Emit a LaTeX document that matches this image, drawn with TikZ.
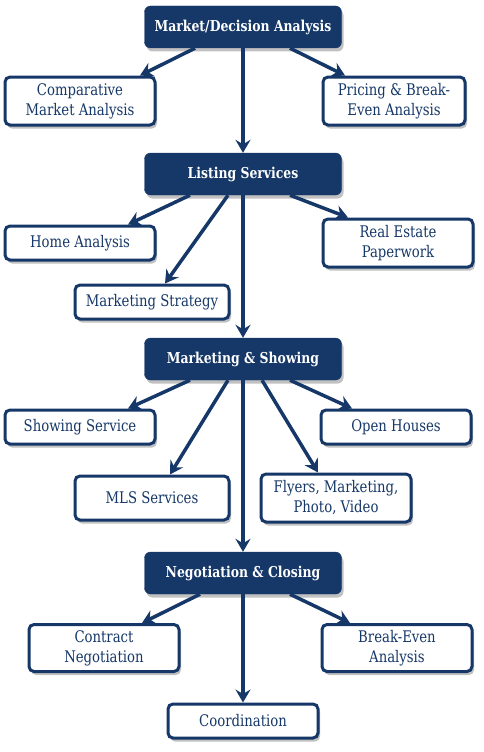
\documentclass[tikz,border=0pt]{standalone}
\usepackage{fontspec}
\setmainfont[FakeStretch=0.92]{DejaVu Serif Condensed}
\usetikzlibrary{shadows,arrows.meta,calc}
\definecolor{navy}{HTML}{163868}
\begin{document}
\begin{tikzpicture}[x=1pt,y=-1pt,
 shad/.style={drop shadow={shadow xshift=2pt,shadow yshift=-3.5pt,opacity=0.35,fill=black!70}},
 darkbox/.style={shad,fill=navy,draw=navy,rounded corners=6pt,text=white,
   font=\bfseries\fontsize{15}{18}\selectfont,minimum width=197pt,minimum height=42pt,inner sep=2pt},
 lightbox/.style={shad,fill=white,draw=navy,line width=3pt,rounded corners=5pt,text=navy,
   font=\fontsize{16}{20}\selectfont,align=center,minimum width=150pt,minimum height=34pt,inner sep=2pt},
 arr/.style={draw=navy,line width=3.5pt,-{Stealth[length=13pt,width=15pt,inset=4.5pt]}}]
\useasboundingbox (0,0) rectangle (484,752);
% main boxes
\node[darkbox] (mda) at (243,27) {Market/Decision Analysis};
\node[darkbox] (ls) at (243,174) {Listing Services};
\node[darkbox] (mks) at (243,359) {Marketing \& Showing};
\node[darkbox] (nc) at (243,573) {Negotiation \& Closing};
% sub boxes
\node[lightbox,minimum height=48pt] (cma) at (80,101) {Comparative\\Market Analysis};
\node[lightbox,minimum height=48pt,minimum width=142pt] (pea) at (394,101) {Pricing \& Break-\\Even Analysis};
\node[lightbox] (ha) at (80,243) {Home Analysis};
\node[lightbox,minimum height=48pt] (rep) at (398,243) {Real Estate\\Paperwork};
\node[lightbox,minimum width=154pt] (ms) at (152,302) {Marketing Strategy};
\node[lightbox] (ss) at (80,427) {Showing Service};
\node[lightbox] (oh) at (396,427) {Open Houses};
\node[lightbox,minimum width=154pt,minimum height=44pt] (mls) at (152,498) {MLS Services};
\node[lightbox,minimum height=48pt] (fly) at (336,498) {Flyers, Marketing,\\Photo, Video};
\node[lightbox,minimum height=47pt] (cn) at (104,648) {Contract\\Negotiation};
\node[lightbox,minimum height=47pt] (bea) at (397,648) {Break-Even\\Analysis};
\node[lightbox] (co) at (243,721) {Coordination};
% arrows
\draw[arr] ($(mda.south)+(-48,0)$) -- ($(cma.north)+(60,0)$);
\draw[arr] ($(mda.south)+(47,0)$) -- ($(pea.north)+(-49,0)$);
\draw[arr] (mda.south) -- (ls.north);
\draw[arr] ($(ls.south)+(-53,0)$) -- ($(ha.north)+(48,0)$);
\draw[arr] ($(ls.south)+(-15,0)$) -- ($(ms.north)+(13,0)$);
\draw[arr] (ls.south) -- (mks.north);
\draw[arr] ($(ls.south)+(47,0)$) -- ($(rep.north)+(-50,0)$);
\draw[arr] ($(mks.south)+(-53,0)$) -- ($(ss.north)+(48,0)$);
\draw[arr] ($(mks.south)+(-15,0)$) -- ($(mls.north)+(18,0)$);
\draw[arr] ($(mks.south)+(19,0)$) -- ($(fly.north)+(-18,0)$);
\draw[arr] ($(mks.south)+(47,0)$) -- ($(oh.north)+(-44,0)$);
\draw[arr] (mks.south) -- (nc.north);
\draw[arr] ($(nc.south)+(-43,0)$) -- ($(cn.north)+(38,0)$);
\draw[arr] ($(nc.south)+(47,0)$) -- ($(bea.north)+(-47,0)$);
\draw[arr] (nc.south) -- (co.north);
\end{tikzpicture}
\end{document}
